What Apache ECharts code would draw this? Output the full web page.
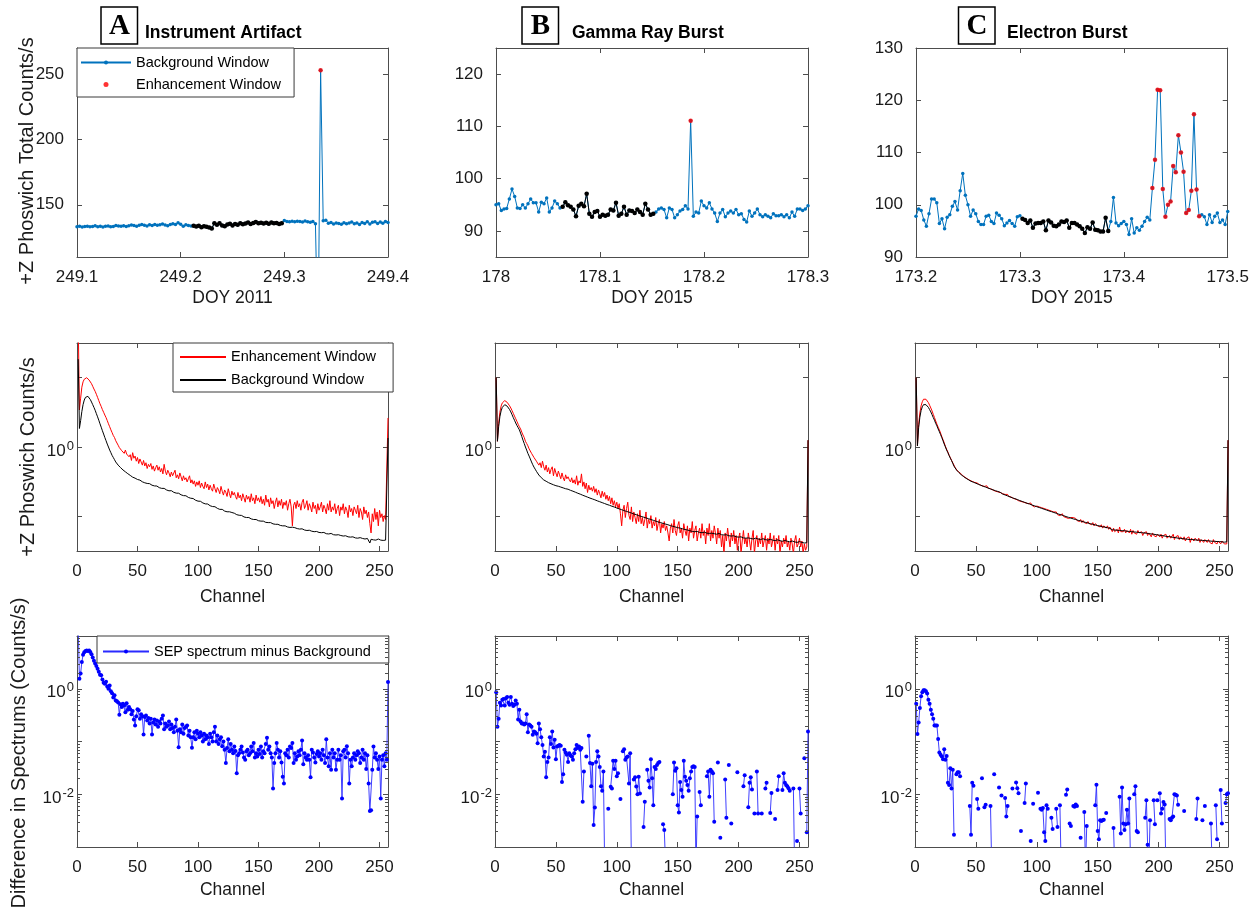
<!DOCTYPE html>
<html><head><meta charset="utf-8">
<script src="https://cdn.jsdelivr.net/npm/echarts@6/dist/echarts.min.js"></script>
<style>html,body{margin:0;padding:0;background:#fff}#c{width:1252px;height:914px}</style>
</head><body><div id="c"></div><script>
// ---------------- DATA ----------------
const PANEL_LETTERS = ['A', 'B', 'C'];
const PANEL_TITLES = ['Instrument Artifact', 'Gamma Ray Burst', 'Electron Burst'];
const Y_TITLES = ['+Z Phoswich Total Counts/s', '+Z Phoswich Counts/s', 'Difference in Spectrums (Counts/s)'];
const X_TITLES_TOP = ['DOY 2011', 'DOY 2015', 'DOY 2015'];
const X_TITLE_LOW = 'Channel';

// time series (total counts/s), regular cadence starting at T0
const TOP_T0 = [249.1, 178.0, 173.2];
const TOP_STEP = [0.0025, 0.3 / 117, 0.0025];
const topA = [
133.2,133.5,133.0,133.4,133.6,133.1,133.3,133.9,133.2,133.5,
133.0,133.6,133.8,133.2,133.4,134.2,133.7,133.5,134.0,133.3,
133.9,134.5,134.2,133.6,134.3,134.8,134.4,133.8,134.6,134.1,
134.9,134.3,134.7,135.2,134.5,134.0,134.8,135.5,134.9,136.2,
135.0,133.5,134.6,134.2,133.8,
134.0,133.4,133.9,132.8,133.6,133.1,132.5,131.9,135.8,134.6,
135.9,134.2,133.5,134.8,135.4,134.1,135.2,134.7,135.9,135.0,
135.6,136.4,135.3,136.1,136.8,135.9,136.3,135.7,136.2,135.4,
136.5,135.8,136.0,135.2,135.9,
138.0,137.2,137.0,137.4,136.9,137.3,137.1,136.8,137.5,137.0,136.6,137.2,135.5,
40,253,137.8,
138.2,135.8,136.5,135.2,136.0,135.6,135.0,136.3,135.4,136.0,136.8,135.5,136.1,134.9,136.4,135.7,136.9,135.3,136.6,137.0,135.6,136.8,135.9,137.2,136.5
];
const topB = [
95.0,95.2,93.9,94.2,94.3,96.1,98.0,96.6,94.4,94.3,
95.0,94.4,95.2,96.1,95.4,95.4,93.6,95.5,95.2,96.3,
93.6,94.4,95.7,95.2,94.4,
94.6,95.5,94.9,94.6,94.1,92.8,94.8,95.2,94.7,97.1,
93.3,92.7,93.6,93.8,92.7,93.1,92.9,93.1,94.1,93.9,
95.4,92.9,93.3,94.6,93.1,93.9,93.8,93.4,94.1,93.6,
93.1,95.2,94.1,93.1,93.3,
93.6,94.2,94.4,94.1,92.5,94.4,94.1,92.5,93.1,93.8,94.1,94.8,94.2,
111.1,
92.8,93.6,93.4,95.7,94.8,94.4,95.4,94.2,93.4,91.8,
93.4,94.1,92.7,93.4,93.8,93.4,94.1,93.1,93.3,92.2,
91.7,93.8,92.8,93.4,94.2,93.1,92.7,93.1,92.8,92.5,
93.3,92.9,92.9,93.1,92.7,93.1,92.5,93.6,92.8,94.2,
94.2,93.9,94.2,94.8
];
const topC = [
97.8,99.2,98.9,97.1,95.9,98.3,101.1,101.1,100.4,96.4,
97.3,95.4,97.6,98.1,99.7,100.6,99.0,102.7,106.0,101.8,
100.0,97.8,99.0,98.3,96.8,96.2,96.2,97.8,98.0,96.8,
96.4,98.4,98.0,97.3,96.0,96.5,97.0,96.4,95.9,97.7,
97.9,
97.3,97.1,96.5,97.0,95.6,96.4,96.5,96.5,96.8,95.1,
97.0,96.6,96.0,95.9,96.2,96.8,96.7,97.0,95.6,96.5,
96.5,96.2,95.9,95.4,94.6,95.7,95.4,96.6,95.2,95.1,
94.9,94.9,97.5,95.0,
96.8,101.4,96.5,96.0,96.4,
96.8,96.2,94.3,97.3,94.6,95.6,95.1,95.9,96.8,97.6,
97.1,
103.2,108.6,122.0,121.9,103.0,97.7,100.0,100.6,107.4,106.2,
113.3,110.0,106.3,98.4,99.0,102.7,117.3,102.9,97.8,
98.1,97.7,96.2,98.1,96.6,97.8,98.4,96.6,97.1,96.2,
98.7
];
// index ranges of the background window (black) and enhancement window (red)
const TOP_BG_RANGE = [[45, 79], [25, 59], [41, 74]];
const TOP_ENH_RANGE = [[94, 94], [73, 73], [91, 109]];

// spectra (counts/s per channel), channels 1..257
const midA_enh = [
8.0,1.85,2.25,2.70,2.95,3.08,3.15,3.16,3.12,3.04,
2.95,2.86,2.74,2.62,2.52,2.40,2.28,2.16,2.05,1.96,
1.86,1.78,1.70,1.63,1.55,1.47,1.40,1.33,1.27,1.21,
1.17,1.11,1.08,1.03,0.99,1.02,0.94,0.97,0.90,0.95,
0.89,0.92,0.85,0.88,0.80,0.91,0.83,0.86,0.79,0.84,
0.76,0.82,0.78,0.74,0.80,0.73,0.77,0.70,0.75,0.72,
0.76,0.69,0.73,0.67,0.71,0.74,0.68,0.72,0.66,0.70,
0.64,0.75,0.67,0.63,0.68,0.65,0.61,0.66,0.62,0.64,
0.68,0.60,0.63,0.59,0.65,0.61,0.57,0.62,0.58,0.60,
0.56,0.59,0.62,0.55,0.58,0.54,0.57,0.52,0.56,0.53,
0.57,0.51,0.55,0.52,0.50,0.56,0.51,0.54,0.49,0.53,
0.50,0.48,0.54,0.50,0.47,0.51,0.49,0.46,0.52,0.48,
0.45,0.49,0.47,0.44,0.50,0.46,0.43,0.48,0.45,0.47,
0.44,0.42,0.47,0.43,0.45,0.41,0.46,0.43,0.40,0.45,
0.42,0.44,0.40,0.46,0.41,0.43,0.39,0.45,0.41,0.43,
0.40,0.44,0.39,0.42,0.38,0.45,0.40,0.42,0.37,0.43,
0.39,0.41,0.36,0.40,0.43,0.37,0.41,0.38,0.42,0.36,
0.40,0.38,0.41,0.35,0.39,0.42,0.37,0.27,0.38,0.40,
0.36,0.41,0.37,0.39,0.35,0.40,0.42,0.36,0.38,0.41,
0.35,0.39,0.37,0.34,0.40,0.36,0.38,0.33,0.39,0.35,
0.37,0.40,0.34,0.38,0.36,0.33,0.39,0.35,0.41,0.34,
0.37,0.35,0.39,0.33,0.36,0.38,0.32,0.37,0.35,0.39,
0.33,0.37,0.35,0.31,0.38,0.34,0.36,0.32,0.37,0.35,
0.33,0.38,0.31,0.36,0.34,0.30,0.37,0.33,0.35,0.31,
0.34,0.28,0.24,0.33,0.29,0.36,0.30,0.34,0.27,0.35,
0.31,0.33,0.29,0.32,0.30,0.31,1.62
];
const midA_bg = [
4.3,1.36,1.55,1.80,2.02,2.18,2.28,2.33,2.32,2.27,
2.20,2.11,2.02,1.93,1.84,1.74,1.65,1.56,1.47,1.39,
1.31,1.24,1.17,1.11,1.05,1.00,0.95,0.91,0.87,0.84,
0.81,0.78,0.76,0.74,0.725,0.71,0.695,0.683,0.671,0.662,
0.648,0.642,0.629,0.624,0.611,0.606,0.598,0.596,0.585,0.583,
0.574,0.577,0.566,0.561,0.563,0.552,0.555,0.546,0.541,0.544,
0.536,0.530,0.533,0.524,0.521,0.523,0.514,0.509,0.512,0.503,
0.500,0.503,0.494,0.490,0.492,0.483,0.480,0.484,0.474,0.471,
0.473,0.465,0.461,0.464,0.455,0.452,0.455,0.446,0.443,0.445,
0.437,0.433,0.435,0.427,0.422,0.425,0.416,0.413,0.415,0.407,
0.404,0.406,0.398,0.395,0.397,0.389,0.386,0.388,0.380,0.377,
0.379,0.372,0.369,0.371,0.363,0.361,0.363,0.355,0.353,0.355,
0.348,0.345,0.347,0.341,0.338,0.341,0.334,0.337,0.331,0.333,
0.328,0.325,0.327,0.322,0.319,0.321,0.316,0.313,0.315,0.310,
0.308,0.310,0.305,0.303,0.305,0.300,0.298,0.300,0.296,0.294,
0.296,0.292,0.290,0.292,0.288,0.286,0.290,0.285,0.283,0.285,
0.281,0.279,0.281,0.277,0.275,0.277,0.273,0.272,0.274,0.270,
0.268,0.270,0.266,0.265,0.267,0.263,0.262,0.264,0.260,0.262,
0.259,0.258,0.260,0.256,0.255,0.257,0.253,0.252,0.254,0.250,
0.249,0.251,0.248,0.247,0.249,0.245,0.244,0.246,0.243,0.242,
0.244,0.241,0.240,0.242,0.238,0.237,0.240,0.236,0.235,0.238,
0.234,0.233,0.236,0.232,0.231,0.233,0.229,0.230,0.232,0.228,
0.227,0.229,0.226,0.225,0.227,0.224,0.223,0.225,0.222,0.221,
0.223,0.220,0.219,0.222,0.218,0.219,0.221,0.217,0.216,0.219,
0.214,0.203,0.216,0.217,0.214,0.216,0.213,0.215,0.217,0.214,
0.213,0.215,0.212,0.214,0.213,0.212,1.16
];
const midB_enh = [
3.16,1.10,1.48,1.78,1.97,2.08,2.14,2.16,2.14,2.10,
2.05,1.98,1.91,1.83,1.75,1.67,1.60,1.53,1.46,1.40,
1.35,1.28,1.22,1.17,1.10,1.06,1.02,0.97,0.94,0.90,
0.88,0.84,0.82,0.79,0.81,0.74,0.77,0.71,0.79,0.72,
0.68,0.74,0.66,0.71,0.64,0.69,0.72,0.62,0.70,0.65,
0.61,0.67,0.63,0.59,0.65,0.60,0.57,0.63,0.59,0.61,
0.58,0.56,0.60,0.55,0.58,0.54,0.62,0.53,0.57,0.55,
0.64,0.52,0.56,0.50,0.55,0.47,0.53,0.49,0.51,0.48,
0.52,0.47,0.50,0.45,0.49,0.46,0.43,0.48,0.44,0.47,
0.42,0.45,0.41,0.44,0.39,0.43,0.38,0.41,0.37,0.40,
0.36,0.39,0.33,0.27,0.35,0.38,0.31,0.36,0.40,0.32,
0.30,0.37,0.29,0.34,0.31,0.28,0.33,0.29,0.35,0.28,
0.31,0.27,0.30,0.34,0.26,0.30,0.28,0.32,0.26,0.29,
0.27,0.31,0.25,0.28,0.30,0.24,0.28,0.26,0.29,0.25,
0.27,0.24,0.21,0.26,0.28,0.24,0.30,0.25,0.23,0.27,
0.29,0.24,0.26,0.22,0.28,0.25,0.23,0.27,0.21,0.26,
0.24,0.29,0.22,0.25,0.27,0.21,0.24,0.26,0.22,0.28,
0.23,0.25,0.20,0.26,0.23,0.28,0.21,0.25,0.22,0.27,
0.24,0.20,0.26,0.22,0.25,0.19,0.23,0.17,0.24,0.21,
0.26,0.22,0.19,0.24,0.21,0.25,0.20,0.23,0.18,0.22,
0.24,0.17,0.21,0.25,0.20,0.22,0.19,0.24,0.21,0.18,
0.22,0.25,0.17,0.21,0.23,0.19,0.22,0.20,0.24,0.19,
0.21,0.23,0.18,0.22,0.20,0.24,0.19,0.21,0.23,0.18,
0.22,0.20,0.23,0.17,0.21,0.19,0.22,0.20,0.23,0.19,
0.21,0.18,0.22,0.20,0.17,0.21,0.23,0.19,0.20,0.22,
0.19,0.21,0.17,0.20,0.18,0.19,1.12
];
const midB_bg = [
3.16,1.10,1.40,1.65,1.82,1.93,1.99,2.02,2.00,1.97,
1.92,1.86,1.79,1.71,1.63,1.56,1.49,1.43,1.38,1.33,
1.26,1.19,1.12,1.06,1.00,0.95,0.90,0.86,0.82,0.78,
0.745,0.716,0.692,0.668,0.650,0.628,0.612,0.601,0.588,0.579,
0.570,0.566,0.558,0.553,0.549,0.543,0.541,0.534,0.532,0.526,
0.523,0.521,0.515,0.514,0.509,0.507,0.504,0.500,0.501,0.496,
0.493,0.487,0.486,0.480,0.478,0.472,0.470,0.464,0.462,0.457,
0.455,0.449,0.448,0.442,0.441,0.435,0.434,0.428,0.427,0.422,
0.421,0.416,0.415,0.409,0.409,0.403,0.402,0.397,0.396,0.391,
0.390,0.385,0.385,0.380,0.379,0.374,0.373,0.369,0.368,0.363,
0.362,0.358,0.357,0.353,0.352,0.348,0.347,0.343,0.342,0.339,
0.338,0.334,0.333,0.329,0.329,0.325,0.324,0.320,0.320,0.316,
0.315,0.312,0.311,0.308,0.307,0.304,0.303,0.300,0.299,0.296,
0.295,0.292,0.291,0.288,0.288,0.285,0.284,0.281,0.281,0.278,
0.277,0.275,0.274,0.271,0.271,0.268,0.268,0.265,0.265,0.262,
0.262,0.260,0.259,0.257,0.257,0.254,0.254,0.252,0.251,0.249,
0.247,0.246,0.248,0.245,0.244,0.246,0.243,0.242,0.244,0.241,
0.241,0.243,0.240,0.239,0.241,0.238,0.237,0.239,0.236,0.237,
0.239,0.235,0.236,0.238,0.234,0.233,0.235,0.232,0.231,0.233,
0.230,0.229,0.231,0.228,0.227,0.229,0.226,0.225,0.227,0.224,
0.223,0.225,0.222,0.221,0.223,0.220,0.219,0.221,0.218,0.219,
0.221,0.217,0.218,0.220,0.216,0.217,0.219,0.215,0.216,0.218,
0.214,0.215,0.217,0.213,0.214,0.216,0.212,0.213,0.215,0.211,
0.212,0.214,0.210,0.211,0.213,0.209,0.210,0.212,0.208,0.209,
0.211,0.207,0.208,0.210,0.206,0.207,0.209,0.205,0.206,0.208,
0.204,0.205,0.207,0.203,0.204,0.204,1.12
];
const midC_enh = [
3.16,1.02,1.45,1.76,1.98,2.12,2.21,2.24,2.21,2.16,
2.09,2.00,1.91,1.82,1.72,1.63,1.54,1.46,1.39,1.33,
1.26,1.19,1.13,1.07,1.01,0.96,0.92,0.87,0.84,0.80,
0.77,0.74,0.71,0.70,0.67,0.66,0.65,0.63,0.625,0.61,
0.605,0.60,0.59,0.595,0.575,0.58,0.565,0.57,0.555,0.56,
0.55,0.545,0.535,0.54,0.525,0.535,0.52,0.515,0.525,0.505,
0.51,0.50,0.505,0.49,0.50,0.48,0.495,0.475,0.485,0.47,
0.475,0.46,0.465,0.455,0.445,0.455,0.44,0.445,0.435,0.44,
0.425,0.43,0.42,0.425,0.41,0.42,0.405,0.41,0.40,0.41,
0.395,0.40,0.39,0.385,0.395,0.38,0.385,0.37,0.38,0.375,
0.365,0.37,0.36,0.365,0.355,0.36,0.35,0.355,0.345,0.35,
0.34,0.345,0.335,0.34,0.33,0.34,0.325,0.335,0.32,0.325,
0.33,0.315,0.325,0.31,0.32,0.305,0.315,0.31,0.30,0.31,
0.30,0.305,0.295,0.30,0.29,0.30,0.285,0.295,0.285,0.29,
0.28,0.29,0.28,0.285,0.275,0.285,0.27,0.28,0.275,0.27,
0.275,0.265,0.275,0.26,0.27,0.265,0.26,0.27,0.255,0.265,
0.255,0.245,0.26,0.245,0.25,0.255,0.24,0.265,0.245,0.25,
0.245,0.255,0.24,0.25,0.245,0.24,0.255,0.235,0.25,0.24,
0.245,0.235,0.25,0.24,0.235,0.245,0.23,0.24,0.235,0.245,
0.23,0.24,0.235,0.225,0.24,0.23,0.235,0.225,0.235,0.23,
0.225,0.235,0.22,0.23,0.225,0.235,0.22,0.225,0.23,0.22,
0.225,0.235,0.215,0.225,0.22,0.23,0.215,0.225,0.22,0.215,
0.225,0.21,0.22,0.215,0.225,0.205,0.22,0.215,0.21,0.22,
0.215,0.21,0.22,0.205,0.215,0.21,0.205,0.215,0.21,0.205,
0.215,0.205,0.21,0.2,0.215,0.205,0.21,0.2,0.21,0.205,
0.2,0.21,0.205,0.2,0.205,0.2,1.12
];
const midC_bg = [
3.16,1.02,1.38,1.64,1.83,1.95,2.02,2.04,2.02,1.98,
1.93,1.86,1.79,1.71,1.63,1.56,1.48,1.42,1.35,1.29,
1.23,1.17,1.11,1.05,1.00,0.95,0.91,0.87,0.83,0.80,
0.763,0.728,0.716,0.684,0.681,0.655,0.651,0.630,0.628,0.611,
0.610,0.594,0.595,0.580,0.584,0.566,0.572,0.557,0.561,0.548,
0.554,0.538,0.545,0.530,0.537,0.521,0.528,0.514,0.520,0.506,
0.512,0.498,0.505,0.491,0.498,0.484,0.491,0.478,0.484,0.471,
0.468,0.458,0.461,0.451,0.454,0.444,0.447,0.437,0.440,0.430,
0.433,0.424,0.427,0.418,0.421,0.411,0.415,0.405,0.408,0.399,
0.402,0.393,0.397,0.388,0.391,0.382,0.385,0.377,0.380,0.371,
0.374,0.366,0.369,0.361,0.364,0.356,0.359,0.351,0.354,0.346,
0.349,0.342,0.345,0.337,0.340,0.333,0.335,0.328,0.331,0.324,
0.326,0.320,0.322,0.315,0.318,0.311,0.314,0.307,0.309,0.303,
0.305,0.300,0.302,0.296,0.298,0.293,0.295,0.289,0.291,0.286,
0.288,0.283,0.285,0.280,0.282,0.277,0.279,0.274,0.276,0.271,
0.273,0.269,0.271,0.266,0.268,0.264,0.266,0.262,0.263,0.259,
0.260,0.253,0.259,0.252,0.258,0.251,0.257,0.250,0.256,0.249,
0.256,0.249,0.255,0.247,0.254,0.246,0.253,0.245,0.252,0.244,
0.251,0.243,0.250,0.242,0.249,0.241,0.248,0.240,0.246,0.239,
0.245,0.237,0.244,0.236,0.242,0.235,0.241,0.233,0.240,0.232,
0.238,0.230,0.237,0.229,0.235,0.227,0.234,0.226,0.232,0.225,
0.231,0.223,0.229,0.222,0.228,0.220,0.227,0.219,0.226,0.218,
0.225,0.217,0.224,0.216,0.223,0.215,0.222,0.215,0.221,0.214,
0.221,0.213,0.220,0.213,0.219,0.212,0.219,0.211,0.218,0.211,
0.217,0.210,0.217,0.209,0.216,0.209,0.215,0.208,0.215,0.208,
0.214,0.207,0.213,0.206,0.212,0.207,1.12
];
// difference spectra, channels 1..257 (null = non-positive, not drawn on log axis)
const lowA = [
15,1.55,1.95,3.2,4.4,4.9,5.2,5.3,5.2,5.3,
5.0,4.5,3.9,3.4,3.0,2.7,2.4,2.1,1.85,1.8,
1.5,1.3,1.25,1.35,1.1,1.0,1.15,0.9,0.82,0.68,
0.75,0.60,0.58,0.55,0.32,0.51,0.45,0.52,0.48,0.36,
0.53,0.40,0.45,0.41,0.33,0.38,0.26,0.20,0.30,0.41,
0.39,0.27,0.33,0.30,0.136,0.29,0.31,0.25,0.28,0.22,
0.27,0.136,0.23,0.26,0.21,0.25,0.19,0.24,0.22,0.27,
0.31,0.17,0.22,0.19,0.20,0.24,0.17,0.21,0.18,0.15,
0.19,0.26,0.16,0.078,0.17,0.15,0.21,0.14,0.18,0.19,
0.20,0.13,0.16,0.12,0.076,0.12,0.15,0.11,0.16,0.14,
0.12,0.15,0.13,0.10,0.14,0.11,0.13,0.12,0.09,0.14,
0.12,0.10,0.15,0.19,0.10,0.13,0.09,0.11,0.12,0.081,
0.10,0.07,0.039,0.075,0.11,0.065,0.09,0.07,0.06,0.08,
0.066,0.025,0.055,0.06,0.07,0.08,0.062,0.05,0.045,0.065,
0.07,0.055,0.06,0.08,0.065,0.094,0.05,0.06,0.052,0.07,
0.058,0.08,0.05,0.065,0.06,0.09,0.118,0.07,0.08,0.06,
0.05,0.0129,0.039,0.06,0.094,0.07,0.05,0.065,0.04,0.0215,
0.016,0.06,0.055,0.07,0.05,0.08,0.075,0.094,0.039,0.06,
0.045,0.052,0.065,0.055,0.07,0.105,0.037,0.06,0.05,0.045,
0.055,0.045,0.021,0.07,0.062,0.05,0.04,0.058,0.065,0.052,
0.06,0.045,0.07,0.055,0.039,0.11,0.05,0.034,0.06,0.029,
0.07,0.05,0.06,0.029,0.045,0.07,0.045,0.055,0.0083,0.065,
0.07,0.05,0.081,0.06,0.016,0.045,0.034,0.05,0.06,0.045,
0.055,0.065,0.06,0.039,0.05,0.07,0.045,0.06,0.03,0.055,
0.016,0.0048,0.005,0.029,0.08,0.05,0.06,0.045,0.03,0.052,
0.0083,0.045,0.055,0.034,0.06,0.045,1.34
];
const lowB = [
0.86,0.19,0.27,0.54,0.48,0.62,0.64,0.48,0.66,0.70,
0.54,0.50,0.70,0.52,0.47,0.50,0.60,0.52,0.26,0.40,
0.24,0.22,0.22,0.21,0.22,0.33,0.15,0.21,0.20,0.19,
0.134,0.155,0.15,0.14,0.093,0.22,0.17,0.12,0.086,0.052,
0.064,0.021,0.041,0.05,0.12,0.09,0.155,0.077,0.108,0.046,
0.08,0.083,0.086,0.083,0.017,0.024,0.07,0.062,0.056,0.041,
0.06,0.055,0.052,0.045,0.06,0.071,0.086,0.075,0.08,0.07,
0.075,0.0072,0.027,null,0.052,null,0.128,0.039,0.0142,0.038,
0.0026,0.0056,0.041,0.065,0.052,0.033,0.0142,0.0116,0.027,0.0005,
null,null,0.0053,null,0.0138,0.0128,0.043,0.03,0.043,0.022,
0.025,null,0.0081,null,0.065,0.071,0.045,0.05,0.052,0.016,
0.06,0.0004,null,0.019,0.021,0.014,0.01,0.0215,0.0103,null,
null,0.0024,0.0072,null,0.029,0.018,0.0134,0.046,0.02,0.0062,
0.033,0.03,0.036,0.039,0.041,null,null,0.0027,0.0021,0.0005,
null,null,null,null,null,0.01,0.04,0.028,0.031,0.0062,
0.0045,0.017,0.012,0.009,0.043,0.0215,0.018,0.015,0.0116,0.02,
0.027,0.033,0.034,0.033,0.0004,0.0038,null,0.011,0.0062,null,
null,null,null,0.022,0.027,0.009,0.029,0.027,0.025,0.003,
null,null,0.04,null,0.0015,null,null,null,0.019,0.0036,
null,0.036,null,0.0028,null,null,null,null,0.026,null,
null,null,null,0.0142,0.023,null,null,0.0057,0.0165,0.021,
0.0123,null,0.0043,null,0.027,0.0043,null,null,0.0043,null,
null,0.0128,0.0165,null,null,0.0044,0.0106,null,null,0.0034,
null,0.012,0.022,null,null,0.012,0.025,0.0165,0.015,0.0142,
0.013,0.0116,null,null,0.0128,0.0004,null,0.0013,null,0.0128,
0.0043,null,null,0.048,null,0.0019,0.155
];
const lowC = [
0.52,0.138,0.23,0.43,0.72,0.86,0.94,0.94,0.90,0.81,
0.62,0.52,0.40,0.33,0.27,0.20,0.20,0.20,0.111,0.062,
0.056,0.052,0.046,0.071,0.045,0.053,0.0165,0.015,0.031,0.0128,
0.029,0.0017,null,0.024,0.026,0.026,0.022,null,null,null,
null,null,null,null,0.006,0.0017,0.0165,0.0145,null,null,
0.0081,0.0053,null,null,0.02,null,0.0057,0.0063,null,null,
null,0.006,0.0004,null,0.024,null,null,null,0.0134,null,
0.0095,null,null,0.0085,0.0038,0.006,null,null,null,0.0128,
null,null,0.0167,0.013,0.0104,null,0.002,null,null,0.0068,
0.016,null,null,null,0.0013,null,0.0066,null,null,null,
0.0107,null,0.0053,0.0051,0.0055,0.0019,0.0013,0.0062,0.0053,null,
null,0.0036,0.0022,null,null,0.0053,0.0024,null,0.0062,0.0004,
null,null,null,0.0098,0.0123,null,0.0028,0.0025,null,0.006,
0.0058,0.0064,0.006,null,null,0.0015,null,null,0.0046,0.0004,
0.0025,null,null,null,null,null,null,0.0062,0.0152,0.002,
0.0014,0.0032,0.0031,0.0032,0.0033,null,0.0044,null,null,null,
null,null,0.0023,0.0004,null,null,null,0.009,0.0018,0.0134,
0.0028,0.0021,0.0027,0.0051,0.0028,0.0083,0.0004,null,null,0.01,
0.0142,0.002,0.0019,null,null,null,null,null,0.0036,0.0077,
0.0011,0.0004,0.0032,null,null,0.0077,0.0027,null,0.0077,null,
0.0104,0.0043,0.0053,0.0071,0.0064,0.0004,null,null,0.0034,0.0032,
0.0036,0.0038,0.01,0.0098,0.0095,0.0063,null,null,null,null,
0.0048,null,null,null,null,null,null,null,null,null,
0.0034,0.0083,null,null,null,0.0032,null,0.006,null,null,
null,null,0.0028,0.0004,null,null,0.0062,0.0014,null,null,
0.012,0.0028,null,null,0.0068,0.01,0.0104
];
const LOG_MINOR_MANTISSA = [2, 3, 4, 5, 6, 7, 8, 9];
const LOG_MINOR_DECADES = [0.001, 0.01, 0.1, 1];

// ---------------- STYLE / LAYOUT ----------------
const FONT = "'Liberation Sans', Arial, Helvetica, sans-serif";
const SERIF = "'Liberation Serif', 'Times New Roman', serif";
const AX = '#4d4d4d', TXT = '#1a1a1a';
const GRIDS = [
  {left: 77, top: 48, width: 311, height: 209},
  {left: 496, top: 48, width: 312, height: 209},
  {left: 916, top: 48, width: 312, height: 209},
  {left: 77, top: 343, width: 311, height: 208},
  {left: 495, top: 343, width: 313, height: 208},
  {left: 915, top: 343, width: 313, height: 208},
  {left: 77, top: 636, width: 311, height: 211},
  {left: 495, top: 636, width: 313, height: 211},
  {left: 915, top: 636, width: 313, height: 211}
];
const xAxes = [], yAxes = [], series = [];

function axisBase(g, o) {
  const a = {gridIndex: g, type: o.type || 'value', min: o.min, max: o.max,
    axisLine: {show: true, onZero: false, lineStyle: {color: AX, width: 1}},
    axisTick: {show: true, inside: true, length: 5, lineStyle: {color: AX, width: 1}},
    splitLine: {show: false}, minorTick: {show: false}};
  if (o.interval != null) a.interval = o.interval;
  if (o.splitNumber != null) a.splitNumber = o.splitNumber;
  if (o.logBase != null) a.logBase = o.logBase;
  return a;
}
function addX(g, o) {
  const m = axisBase(g, o);
  m.position = 'bottom';
  m.name = o.name; m.nameLocation = 'middle'; m.nameGap = o.nameGap;
  m.nameTextStyle = {fontSize: 17.5, color: TXT, fontFamily: FONT};
  m.axisLabel = {show: true, margin: 12, fontSize: 17, color: TXT, fontFamily: FONT,
    showMinLabel: true, showMaxLabel: o.showMax !== false};
  if (o.fmt) m.axisLabel.formatter = o.fmt;
  const t = axisBase(g, o); t.position = 'top'; t.axisLabel = {show: false};
  xAxes.push(m, t);
}
function addY(g, o) {
  const m = axisBase(g, o);
  m.position = 'left';
  m.axisLabel = {show: true, margin: o.margin, fontSize: 17, color: TXT, fontFamily: FONT,
    showMinLabel: o.showMin !== false, showMaxLabel: o.showMax !== false};
  if (o.fmt) m.axisLabel.formatter = o.fmt;
  if (o.rich) m.axisLabel.rich = o.rich;
  const r = axisBase(g, o); r.position = 'right'; r.axisLabel = {show: false};
  yAxes.push(m, r);
}
const POW_RICH = {
  b: {fontSize: 17, color: TXT, fontFamily: FONT, padding: [8, 0, 0, 0]},
  s: {fontSize: 13, color: TXT, fontFamily: FONT, padding: [0, 0, 2, 1]}
};
const fmtMid = v => Math.abs(Math.log10(v)) < 1e-6 ? '{b|10}{s|0}' : '';
const fmtLow = v => {
  const l = Math.log10(v);
  if (Math.abs(l) < 1e-6) return '{b|10}{s|0}';
  if (Math.abs(l + 2) < 1e-6) return '{b|10}{s|-2}';
  return '';
};
const fmtDoy = v => Math.abs(v - Math.round(v)) < 1e-9 ? String(Math.round(v)) : v.toFixed(1);

// top row axes
const TOP_Y = [
  {min: 110, max: 270, splitNumber: 3, showMin: false, showMax: false},
  {min: 85, max: 125, splitNumber: 4, showMin: false, showMax: false},
  {min: 90, max: 130, interval: 10}
];
for (let p = 0; p < 3; p++) {
  addX(p, {min: TOP_T0[p], max: TOP_T0[p] + 0.3, interval: 0.1, name: X_TITLES_TOP[p], nameGap: 32, fmt: fmtDoy});
  addY(p, Object.assign({margin: 13}, TOP_Y[p]));
}
for (let p = 3; p < 6; p++) {
  addX(p, {min: 0, max: 257, interval: 50, name: X_TITLE_LOW, nameGap: 37, showMax: false});
  addY(p, {type: 'log', logBase: Math.sqrt(10), min: Math.pow(10, -0.75), max: Math.pow(10, 0.75), margin: 3, fmt: fmtMid, rich: POW_RICH});
}
for (let p = 6; p < 9; p++) {
  addX(p, {min: 0, max: 257, interval: 50, name: X_TITLE_LOW, nameGap: 34, showMax: false});
  addY(p, {type: 'log', min: 0.001, max: 10, margin: 3, fmt: fmtLow, rich: POW_RICH});
}

// top row series
const TOPS = [topA, topB, topC];
for (let p = 0; p < 3; p++) {
  const pts = TOPS[p].map((v, i) => [TOP_T0[p] + i * TOP_STEP[p], v]);
  const bg = TOP_BG_RANGE[p], en = TOP_ENH_RANGE[p];
  series.push({name: p === 0 ? 'Background Window' : 'series-' + p, type: 'line', xAxisIndex: 2 * p, yAxisIndex: 2 * p,
    data: pts, symbol: 'circle', symbolSize: 3.5, showSymbol: true, showAllSymbol: true,
    lineStyle: {color: '#0072BD', width: 1}, itemStyle: {color: '#0072BD'}, z: 2});
  series.push({name: 'bgwin-' + p, type: 'line', xAxisIndex: 2 * p, yAxisIndex: 2 * p,
    data: pts.slice(bg[0], bg[1] + 1), symbol: 'circle', symbolSize: 4.5, showAllSymbol: true,
    lineStyle: {color: '#000', width: 1}, itemStyle: {color: '#000'}, z: 3});
  series.push({name: p === 0 ? 'Enhancement Window' : 'enh-' + p, type: 'scatter', xAxisIndex: 2 * p, yAxisIndex: 2 * p,
    data: pts.slice(en[0], en[1] + 1), symbol: 'circle', symbolSize: 4.5, itemStyle: {color: '#ff0000'}, z: 4});
}
// middle row series
const MIDS = [[midA_enh, midA_bg], [midB_enh, midB_bg], [midC_enh, midC_bg]];
for (let k = 0; k < 3; k++) {
  const p = 3 + k;
  series.push({name: k === 0 ? 'Enhancement Window ' : 'menh-' + k, type: 'line', xAxisIndex: 2 * p, yAxisIndex: 2 * p,
    data: MIDS[k][0].map((v, i) => [i + 1, v]), symbol: 'none', lineStyle: {color: '#ff0000', width: 1}, itemStyle: {color: '#ff0000'}, z: 2});
  series.push({name: k === 0 ? 'Background Window ' : 'mbg-' + k, type: 'line', xAxisIndex: 2 * p, yAxisIndex: 2 * p,
    data: MIDS[k][1].map((v, i) => [i + 1, v]), symbol: 'none', lineStyle: {color: '#000', width: 1}, itemStyle: {color: '#000'}, z: 3});
}
// bottom row series
const LOWS = [lowA, lowB, lowC];
const minorVals = [];
LOG_MINOR_DECADES.forEach(d => LOG_MINOR_MANTISSA.forEach(m => minorVals.push([0, m * d])));
for (let k = 0; k < 3; k++) {
  const p = 6 + k;
  series.push({name: k === 0 ? 'SEP spectrum minus Background' : 'diff-' + k, type: 'line', xAxisIndex: 2 * p, yAxisIndex: 2 * p,
    data: LOWS[k].map((v, i) => [i + 1, v == null ? '-' : v]), connectNulls: false,
    symbol: 'circle', symbolSize: 4, showAllSymbol: true,
    lineStyle: {color: '#2a2aff', width: 0.9}, itemStyle: {color: '#0000ff'}, z: 2});
  series.push({name: 'minor-' + k, type: 'custom', xAxisIndex: 2 * p, yAxisIndex: 2 * p, silent: true, z: 5,
    data: minorVals,
    renderItem: (params, api) => {
      const v = api.value(1);
      const a = api.coord([0, v]), b = api.coord([257, v]);
      const y = Math.round(a[1]) + 0.5;
      return {type: 'group', children: [
        {type: 'line', shape: {x1: a[0], y1: y, x2: a[0] + 3, y2: y}, style: {stroke: AX, lineWidth: 1}},
        {type: 'line', shape: {x1: b[0] - 3, y1: y, x2: b[0], y2: y}, style: {stroke: AX, lineWidth: 1}}
      ]};
    }});
}

// legends
const LEG_TEXT = {fontSize: 14.5, color: '#000', fontFamily: FONT, lineHeight: 16};
const NO_DOT = {opacity: 0, color: 'rgba(0,0,0,0)', borderWidth: 0};
const legends = [
  {data: ['Background Window', 'Enhancement Window'], left: 77, top: 48, orient: 'vertical',
    itemWidth: 50, itemHeight: 5, itemGap: 6, padding: [6.5, 13, 4.5, 3]},
  {data: [{name: 'Enhancement Window ', itemStyle: NO_DOT}, {name: 'Background Window ', itemStyle: NO_DOT}],
    left: 173, top: 343, orient: 'vertical',
    itemWidth: 46, itemHeight: 5, itemGap: 7, padding: [6, 13, 4, 6]},
  {data: ['SEP spectrum minus Background'], left: 97, top: 636, orient: 'vertical',
    itemWidth: 46, itemHeight: 5, itemGap: 6, padding: [7.5, 18, 3.5, 5]}
].map(l => Object.assign(l, {borderColor: '#3a3a3a', borderWidth: 1, backgroundColor: '#fff',
  textStyle: LEG_TEXT, selectedMode: false, borderRadius: 0}));

// graphic texts: panel letters, titles and y-axis titles
const LETTER_BOX_X = [101, 522, 958.5];
const TITLE_X = [145, 572, 1007];
const graphic = [];
for (let p = 0; p < 3; p++) {
  graphic.push({type: 'rect', shape: {x: LETTER_BOX_X[p], y: 7, width: 36.5, height: 37}, style: {fill: '#fff', stroke: '#000', lineWidth: 1.5}});
  graphic.push({type: 'text', x: LETTER_BOX_X[p] + 18.5, y: 26.5, style: {text: PANEL_LETTERS[p], font: 'bold 29px ' + SERIF, fill: '#000',
    align: 'center', verticalAlign: 'middle', textAlign: 'center', textVerticalAlign: 'middle'}});
  graphic.push({type: 'text', x: TITLE_X[p], y: 33, style: {text: PANEL_TITLES[p], font: 'bold 17.5px ' + FONT, fill: '#000',
    align: 'left', verticalAlign: 'middle', textAlign: 'left', textVerticalAlign: 'middle'}});
}
const YT_POS = [[27, 161], [28, 457], [19, 753]];
for (let r = 0; r < 3; r++) {
  graphic.push({type: 'text', x: YT_POS[r][0], y: YT_POS[r][1], rotation: Math.PI / 2,
    style: {text: Y_TITLES[r], font: '20px ' + FONT, fill: TXT, align: 'center', verticalAlign: 'middle', textAlign: 'center', textVerticalAlign: 'middle'}});
}

const chart = echarts.init(document.getElementById('c'), null, {renderer: 'canvas'});
chart.setOption({
  animation: false,
  backgroundColor: '#fff',
  textStyle: {fontFamily: FONT},
  grid: GRIDS,
  xAxis: xAxes,
  yAxis: yAxes,
  legend: legends,
  series: series,
  graphic: graphic
});
</script></body></html>
